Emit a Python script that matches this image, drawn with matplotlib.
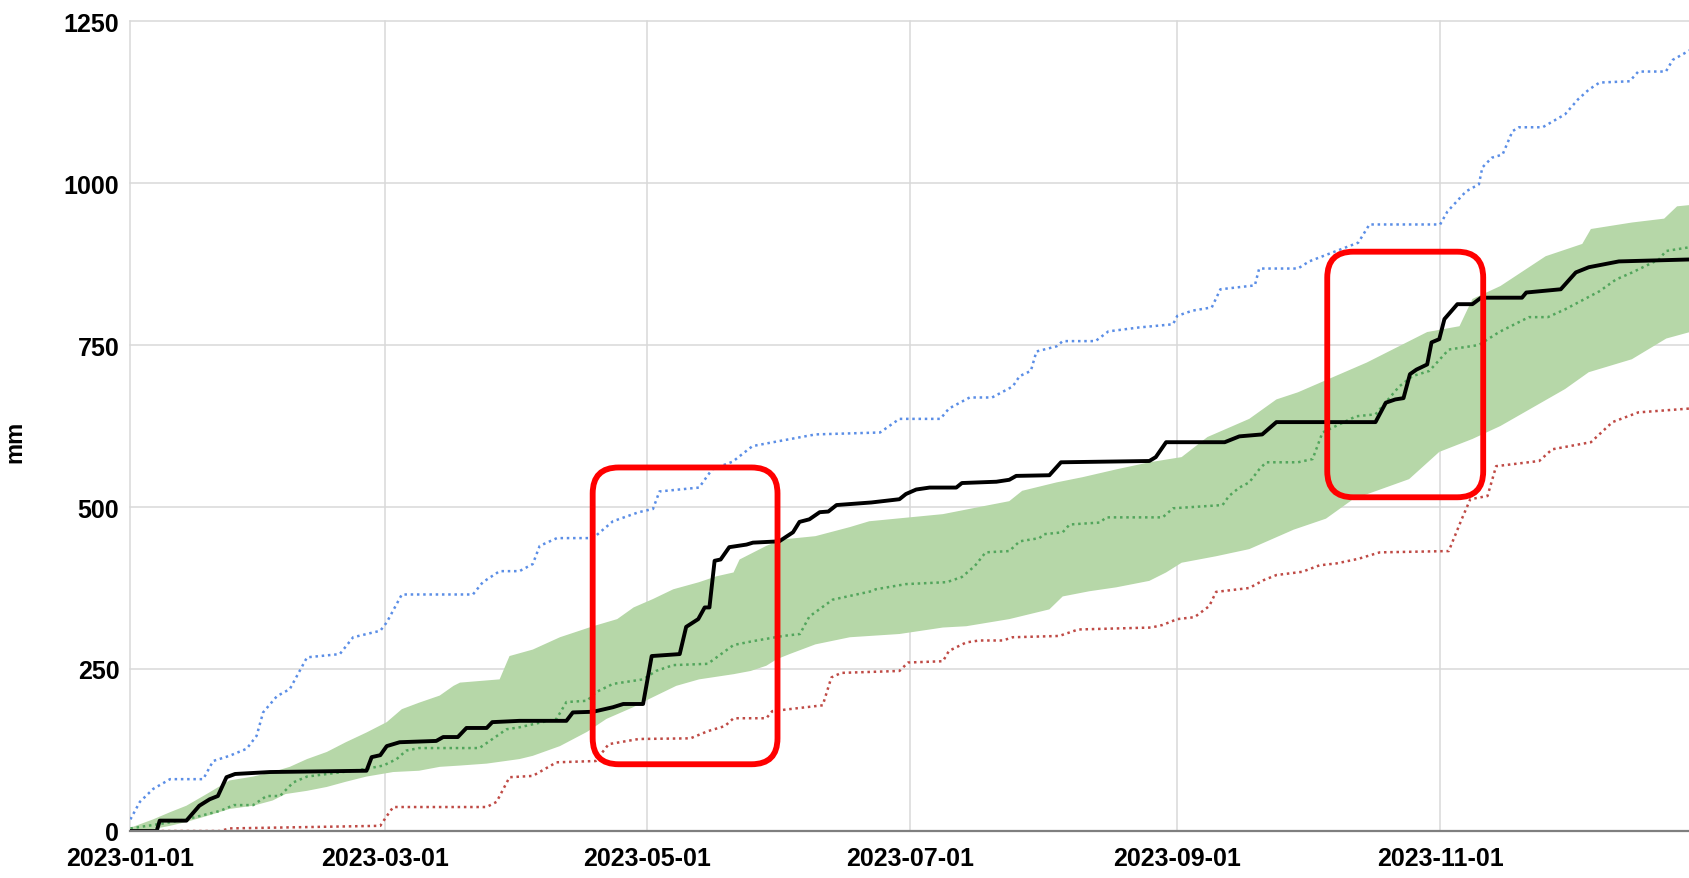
import numpy as np
import matplotlib
matplotlib.use('Agg')
import matplotlib.pyplot as plt
import matplotlib.dates as mdates
from matplotlib.patches import FancyBboxPatch
from datetime import datetime

plt.rcParams['font.family'] = ['Liberation Sans', 'DejaVu Sans']
plt.rcParams['font.weight'] = 'bold'

# 日数 (2023-01-01 からの経過日) と累積降水量 mm
actual_day = [0, 6.1, 6.8, 13, 16, 18.4, 20.3, 22.3, 24.3, 32.4,
              54.8, 56, 58, 59.5, 62.5, 71, 72.6, 76, 78, 82.7,
              84, 90.3, 101.2, 102.7, 107.4, 112, 114.4, 119, 121, 127.5,
              129, 131.8, 133.3, 134.4, 135.6, 137, 139, 143, 144.5, 150.6,
              153.8, 155.3, 157.6, 160, 162, 163.9, 172, 178.5, 180, 182.4,
              185.5, 191.7, 193, 201, 204, 205.6, 213.3, 216, 236.5, 238,
              240.4, 254, 257.4, 262.7, 266, 289, 291.4, 293.6, 295.5, 297,
              298.5, 301, 302, 303.8, 305, 308, 311.5, 313.5, 323, 324,
              332, 335.5, 338.5, 345.5, 362]
actual_mm = [0, 0, 16, 16, 39, 49, 54, 83, 88, 91,
             93, 114, 117, 131, 137, 139, 145, 145, 159, 159,
             168, 170, 170, 183, 184, 191, 196, 196, 270, 273,
             315, 327, 345, 345, 417, 419, 438, 442, 445, 447,
             461, 477, 481, 492, 493, 503, 507, 512, 520, 527,
             530, 530, 537, 539, 542, 548, 549, 569, 571, 577,
             600, 600, 609, 612, 631, 631, 661, 666, 668, 705,
             712, 720, 754, 759, 790, 813, 813, 823, 823, 831,
             836, 862, 870, 879, 882]

max_day = [0, 2.2, 5.3, 9.2, 16.9, 19.2, 23, 27, 29.3, 30.8,
           34, 37, 41, 48.6, 51.7, 58, 59.5, 63, 79.5, 81.8,
           85.7, 90.3, 93.4, 95, 99, 107.4, 112, 118, 121.3, 122.8,
           132, 135, 139.8, 144.4, 150, 159, 174, 178.5, 188, 190,
           194.8, 200, 204.8, 206.4, 209, 210.3, 215, 216.4, 224, 227,
           234, 242, 243, 246.5, 251, 253, 261, 262, 271, 273.6,
           285, 287.6, 304, 305.7, 310, 313, 313.8, 316, 318.5, 320.8,
           322.3, 327.8, 333, 336, 338.5, 341, 348, 350, 356.4, 358,
           362]
max_mm = [18, 45, 65, 80, 80, 108, 116, 127, 147, 183,
          208, 219, 268, 273, 299, 309, 322, 365, 365, 384,
          401, 401, 412, 440, 452, 452, 478, 492, 497, 524,
          530, 558, 570, 594, 601, 612, 615, 636, 636, 652,
          669, 669, 686, 702, 710, 740, 748, 756, 756, 771,
          777, 782, 795, 803, 808, 836, 842, 868, 868, 879,
          908, 936, 936, 956, 987, 998, 1024, 1039, 1044, 1080,
          1086, 1086, 1106, 1129, 1144, 1155, 1157, 1172, 1172, 1190,
          1205]

min_day = [0, 20.8, 23, 58, 59.5, 61, 82.7, 85, 88, 93.4,
           98.9, 108, 111, 118, 130, 134, 138, 140, 147.6, 149,
           160.7, 162.7, 165, 178.5, 180.5, 188.6, 190, 194, 197, 202.5,
           204.8, 215.6, 220, 237, 239.6, 243, 247, 250.4, 252, 259.7,
           263, 266, 272, 276, 280, 285, 290, 306, 309, 311,
           315, 317, 327, 330, 339, 344, 350, 362]
min_mm = [0, 0, 4, 8, 23, 37, 37, 45, 83, 85,
          106, 108, 134, 142, 143, 154, 162, 174, 174, 185,
          194, 237, 244, 247, 260, 262, 278, 291, 294, 294,
          299, 301, 311, 314, 318, 327, 330, 347, 369, 375,
          387, 395, 400, 410, 413, 420, 430, 432, 481, 512,
          517, 563, 571, 589, 600, 631, 646, 652]

median_day = [0, 7, 13, 20.8, 24, 28.5, 31.6, 34.7, 37.8, 41,
              51.7, 54.8, 58.7, 61.8, 64, 67, 81, 83.4, 87.3, 90.3,
              98.9, 101.2, 106, 108, 112, 119, 122, 126, 134, 140,
              144.5, 151.5, 155.4, 157.6, 163, 172, 173, 180, 189.5, 193,
              196, 198.5, 204, 206.4, 211, 212, 216.4, 218, 225, 226.5,
              239.6, 242, 253.5, 255, 257.4, 259.7, 262, 263.6, 271, 274.4,
              276.7, 284.5, 289, 294.5, 297.6, 301.5, 306, 313, 317.7, 324.6,
              329, 333, 341, 344.8, 348.6, 354.8, 356.4, 362]
median_mm = [4, 11, 18, 31, 40, 40, 54, 54, 75, 84,
             93, 96, 101, 111, 124, 128, 128, 139, 157, 160,
             173, 199, 201, 214, 227, 234, 247, 256, 258, 287,
             293, 301, 304, 331, 357, 370, 373, 381, 384, 392,
             409, 430, 432, 447, 452, 458, 461, 473, 476, 484,
             484, 498, 503, 517, 530, 538, 558, 569, 569, 574,
             615, 640, 643, 686, 702, 710, 743, 750, 770, 793,
             793, 805, 833, 851, 862, 882, 895, 901]

# 平年の範囲 (上端・下端)
upper_day = [0, 5.3, 9.2, 13, 17.7, 23, 28.5, 33, 37, 41,
             45.6, 50, 54.8, 59.5, 63, 67, 71.8, 75, 76.5, 85.7,
             88, 93.4, 99.7, 107.4, 113, 116.8, 121.3, 126, 132, 136,
             140, 141.4, 147.6, 151.5, 159, 167, 171.5, 188.6, 197.8, 204,
             207, 215, 221, 228.8, 236.5, 244, 250, 259.7, 266, 271,
             287, 301, 308.5, 311.5, 318, 328.5, 337, 339, 348.5, 356,
             359, 362]
upper_mm = [5, 18, 29, 39, 57, 78, 84, 91, 99, 111,
            122, 137, 152, 168, 188, 198, 209, 224, 229, 234,
            270, 280, 299, 316, 327, 345, 358, 373, 384, 393,
            399, 419, 440, 450, 455, 469, 478, 489, 501, 509,
            525, 538, 546, 558, 569, 577, 608, 636, 666, 677,
            723, 770, 779, 821, 841, 887, 906, 929, 939, 945,
            964, 966]

lower_day = [0, 5.3, 9.2, 13, 17.7, 23, 28.5, 33, 36, 41,
             45.6, 50, 54.8, 61, 67, 71.8, 76.5, 82.7, 90.3, 93.4,
             99.7, 106, 110.5, 116.7, 120.5, 126.7, 132, 140, 144, 147.6,
             150, 153, 159, 167, 178.5, 188.6, 194, 204, 213.3, 216.4,
             222.6, 228.8, 236.5, 240.4, 244, 248, 252, 259.7, 270, 277.5,
             283.8, 296.8, 303.8, 311.5, 318, 333, 338.5, 348.5, 356.5, 362]
lower_mm = [0, 3, 8, 14, 23, 34, 39, 47, 57, 62,
            68, 76, 84, 91, 93, 99, 101, 104, 111, 116,
            131, 153, 173, 191, 204, 224, 234, 242, 247, 255,
            265, 273, 288, 299, 304, 314, 316, 327, 342, 362,
            370, 376, 386, 399, 414, 419, 424, 435, 465, 482,
            512, 543, 585, 605, 625, 682, 708, 728, 760, 770]

# 強調枠 (日, mm)
highlight_boxes = [((107.3, 103), (150.2, 561)), ((277.8, 515), (314.0, 894))]

x_ticks = ['2023-01-01', '2023-03-01', '2023-05-01', '2023-07-01', '2023-09-01', '2023-11-01']
y_ticks = [0, 250, 500, 750, 1000, 1250]

t0 = mdates.date2num(datetime(2023, 1, 1))


def xs(days):
    return t0 + np.asarray(days, dtype=float)


W, H = 1690, 879
fig = plt.figure(figsize=(W / 100, H / 100), dpi=100)
ax = fig.add_axes([130.4 / W, 47 / H, 1 - 130.4 / W, (832 - 22) / H])

# 平年の範囲
ax.fill(np.concatenate([xs(upper_day), xs(lower_day)[::-1]]),
        np.concatenate([upper_mm, lower_mm[::-1]]),
        color='#b6d7a8', lw=0, zorder=1)

dot = (0, (1, 1.5))
ax.plot(xs(median_day), median_mm, color='#52a55c', lw=1.8, ls=dot, zorder=2)
ax.plot(xs(max_day), max_mm, color='#5b8ee6', lw=1.8, ls=dot, zorder=2)
ax.plot(xs(min_day), min_mm, color='#bf4a45', lw=1.8, ls=dot, zorder=2)
ax.plot(xs(actual_day), actual_mm, color='black', lw=2.8, zorder=3,
        solid_joinstyle='round')

ax.set_xlim(t0, t0 + 362)
ax.set_ylim(0, 1250)
ax.set_xticks([mdates.date2num(datetime.strptime(s, '%Y-%m-%d')) for s in x_ticks])
ax.set_xticklabels(x_ticks)
ax.set_yticks(y_ticks)

ax.grid(True, color='#d9d9d9', lw=1.1, zorder=0)
for gl in ax.get_xgridlines() + ax.get_ygridlines():
    gl.set_clip_on(False)
ax.set_axisbelow(True)

for s in ['top', 'right', 'left']:
    ax.spines[s].set_visible(False)
ax.spines['bottom'].set_color('#7f7f7f')
ax.spines['bottom'].set_linewidth(1.6)
ax.spines['bottom'].set_zorder(4)

ax.tick_params(axis='x', length=0, labelsize=18, pad=11)
ax.tick_params(axis='y', length=0, labelsize=18, pad=8)

fig.text(15 / W, 1 - 442 / H, 'mm', rotation=90, ha='center', va='center',
         fontsize=17, fontweight='bold')

# 赤い角丸枠
fig.canvas.draw()
for (d0, m0), (d1, m1) in highlight_boxes:
    px0, py0 = ax.transData.transform((t0 + d0, m0))
    px1, py1 = ax.transData.transform((t0 + d1, m1))
    box = FancyBboxPatch((px0, py0), px1 - px0, py1 - py0,
                         boxstyle='round,pad=0,rounding_size=26',
                         transform=None, fill=False, edgecolor='#ff0000',
                         lw=4.2, zorder=10)
    fig.add_artist(box)

fig.savefig('out.png', dpi=100)
